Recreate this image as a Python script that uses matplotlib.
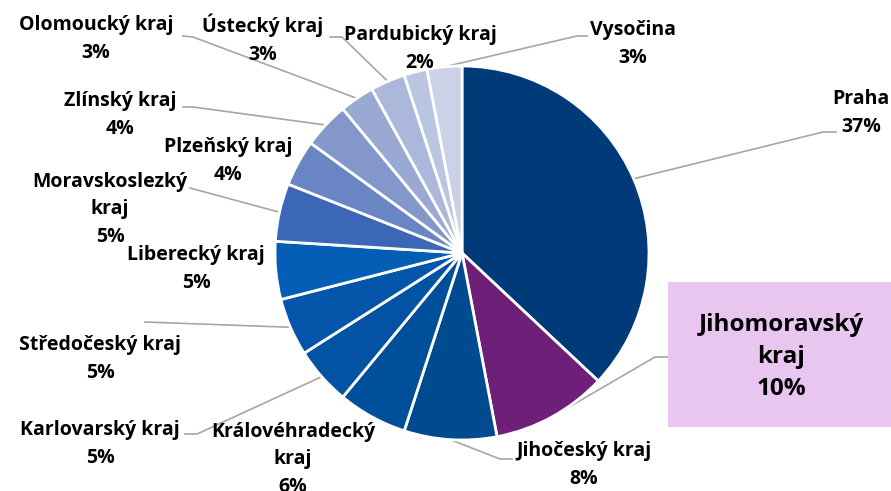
import numpy as np
import matplotlib.pyplot as plt

regions = ["Praha", "Jihomoravský\nkraj", "Jihočeský kraj", "Královéhradecký\nkraj",
           "Karlovarský kraj", "Středočeský kraj", "Liberecký kraj",
           "Moravskoslezký\nkraj", "Plzeňský kraj", "Zlínský kraj",
           "Olomoucký kraj", "Ústecký kraj", "Pardubický kraj", "Vysočina"]
shares = [37, 10, 8, 6, 5, 5, 5, 5, 4, 4, 3, 3, 2, 3]
colors = ["#003A78", "#6E1F78", "#004A8F", "#004F9A", "#0352A3", "#0556AB", "#055EB5",
          "#3C67B9", "#6A85C3", "#8497CB", "#9AA9D2", "#ABB8DC", "#BAC5E2", "#CBD2E6"]

# label anchor (pixel coords from top-left) and leader-line start (None = no line)
label_pos = [(861, 113), (781, 357), (584, 465), (293, 459), (100, 444), (100, 359),
             (196, 269), (110, 209), (228, 161), (120, 115), (96, 39), (263, 39),
             (420, 49), (633, 44)]
line_start = [(836, 132), (668, 357), (512, 459), None, (185, 434), (145, 322),
              None, (190, 188), None, (183, 107), (183, 36), (330, 37),
              None, (587, 36)]
elbow = [(823, 132), (655, 357), (500, 459), None, (197, 434), None,
         None, None, None, (193, 107), (193, 37), (342, 37),
         None, (577, 36)]

W, H = 891, 491
cx, cy, r = 462, 253, 187

plt.rcParams['font.family'] = ['Open Sans', 'DejaVu Sans']
fig = plt.figure(figsize=(W / 100, H / 100), dpi=100)
ax = fig.add_axes([0, 0, 1, 1])

wedges, _ = ax.pie(shares, colors=colors, startangle=90, counterclock=False,
                   center=(cx, H - cy), radius=r, frame=True,
                   wedgeprops=dict(edgecolor="white", linewidth=2))
ax.set_xlim(0, W)
ax.set_ylim(0, H)
ax.set_aspect('equal')
ax.axis('off')

for i, w in enumerate(wedges):
    mid = np.deg2rad((w.theta1 + w.theta2) / 2)
    px, py = cx + r * np.cos(mid), (H - cy) + r * np.sin(mid)
    if line_start[i] is not None:
        xs = [line_start[i][0]]
        ys = [H - line_start[i][1]]
        if elbow[i] is not None:
            xs.append(elbow[i][0])
            ys.append(H - elbow[i][1])
        xs.append(px)
        ys.append(py)
        ax.plot(xs, ys, color="#A6A6A6", lw=1.2, zorder=0)
    text = f"{regions[i]}\n{shares[i]}%"
    lx, ly = label_pos[i]
    if i == 1:
        ax.text(lx, H - ly, text, ha="center", va="center", fontsize=17.5,
                fontweight="bold", linespacing=1.42)
    else:
        ax.text(lx, H - ly, text, ha="center", va="center", fontsize=14,
                fontweight="bold", linespacing=1.5)

# highlight box behind Jihomoravský label
ax.add_patch(plt.Rectangle((668, H - 427), 223, 145, facecolor="#E9C6F0",
                           edgecolor="none", zorder=0))

fig.savefig("out.png", dpi=100)
